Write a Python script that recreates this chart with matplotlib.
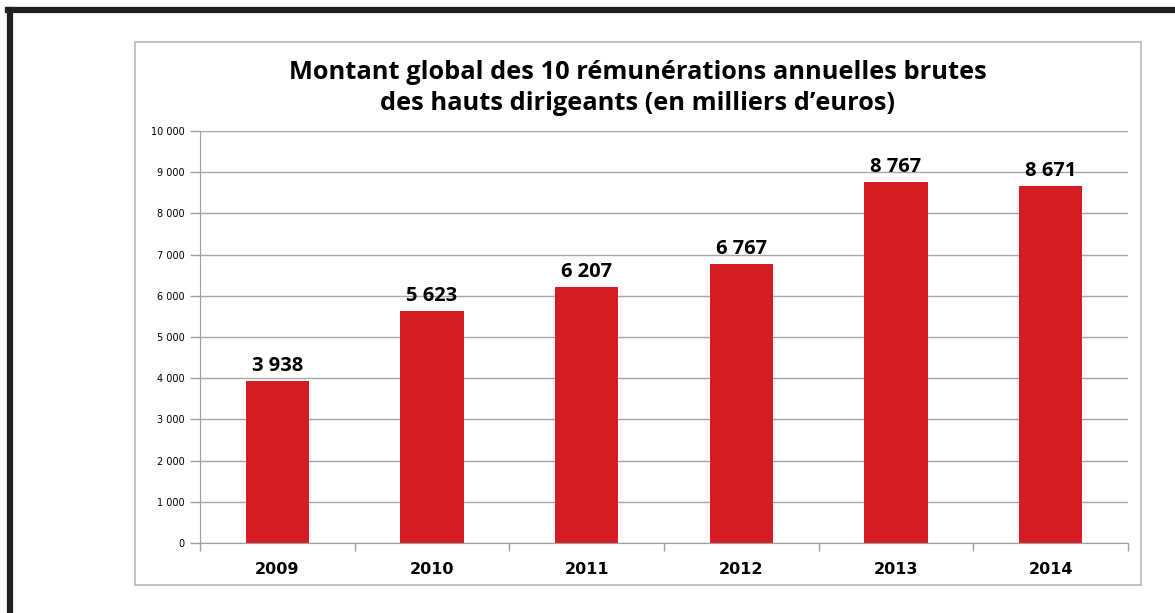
import matplotlib.pyplot as plt
from matplotlib.lines import Line2D
from matplotlib.patches import Rectangle
from matplotlib.ticker import FuncFormatter

# Data
years = ['2009', '2010', '2011', '2012', '2013', '2014']
montants = [3938, 5623, 6207, 6767, 8767, 8671]
y_ticks = list(range(0, 10001, 1000))

def fr(v, pos=None):
    return f"{int(v):,}".replace(',', ' ')

fig = plt.figure(figsize=(11.75, 6.13), dpi=100)
W, H = 1175, 613

# outer black frame (left + top)
fig.add_artist(Line2D([10 / W, 10 / W], [0, 1 - 10 / H], color='#231f20', lw=4.5))
fig.add_artist(Line2D([8 / W, 1], [1 - 10 / H, 1 - 10 / H], color='#231f20', lw=4.5))
# chart area box
fig.add_artist(Rectangle((135 / W, 1 - 585 / H), (1141 - 135) / W, (585 - 42) / H,
                         fill=False, ec='#b8b8b8', lw=1.2))

ax = fig.add_axes([200 / W, 70 / H, 928 / W, 412 / H])
x = range(len(years))
ax.bar(x, montants, width=0.41, color='#d51c24', zorder=3)

for i, v in enumerate(montants):
    ax.text(i, v + 120, fr(v), ha='center', va='bottom', fontsize=14.5,
            family='Open Sans', fontweight='bold')

ax.set_xlim(-0.5, len(years) - 0.5)
ax.set_ylim(0, 10000)
ax.set_yticks(y_ticks)
ax.yaxis.set_major_formatter(FuncFormatter(fr))
ax.set_xticks([i - 0.5 for i in range(len(years) + 1)])
ax.set_xticklabels([])
ax.set_xticks(list(x), minor=True)
ax.set_xticklabels(years, minor=True, fontsize=11.5, fontweight='bold', family='DejaVu Sans')
ax.tick_params(axis='x', which='minor', length=0, pad=14)
ax.tick_params(axis='x', which='major', length=6, color='#a0a0a0', width=1)
ax.tick_params(axis='y', length=7, color='#a0a0a0', width=1, labelsize=7, pad=4)
ax.grid(axis='y', color='#a6a6a6', lw=1, zorder=0)
for s in ['top', 'right']:
    ax.spines[s].set_visible(False)
for s in ['left', 'bottom']:
    ax.spines[s].set_color('#a0a0a0')

fig.text(638 / W, 1 - 88 / H,
         "Montant global des 10 rémunérations annuelles brutes\ndes hauts dirigeants (en milliers d\u2019euros)",
         ha='center', va='center', fontsize=18.3, fontweight='bold', family='Open Sans',
         linespacing=1.3)

fig.savefig('out.png', dpi=100)
